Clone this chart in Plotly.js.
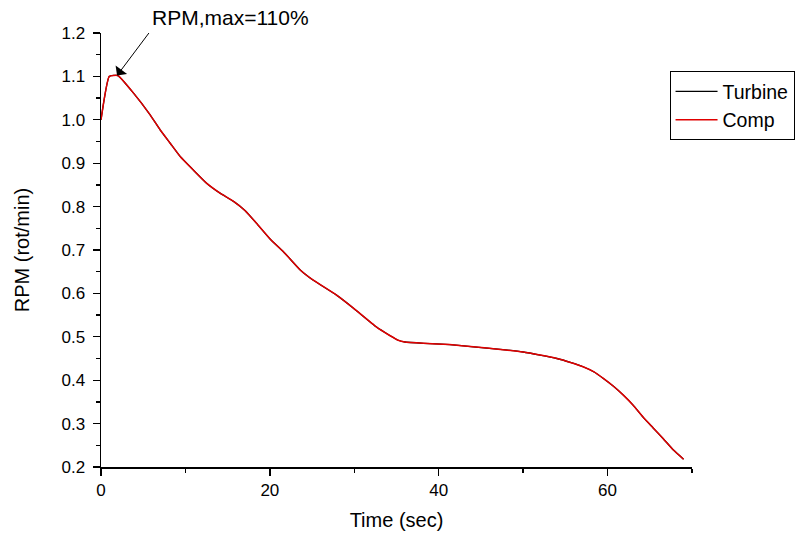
<!DOCTYPE html>
<html>
<head>
<meta charset="utf-8">
<script src="https://cdn.plot.ly/plotly-3.0.1.min.js"></script>
<style>html,body{margin:0;padding:0;background:#fff;}#chart{width:805px;height:540px;}</style>
</head>
<body>
<div id="chart"></div>
<script>
const timeSec = [0, 0.98, 2.0, 3.83, 5.8, 7.0, 8.2, 9.4, 10.9, 12.5, 14.1, 15.7, 17.05, 18.4, 20.0, 21.8, 23.6, 25.1, 27.9, 29.9, 32.6, 34.2, 35.2, 36.0, 38.2, 41.3, 44.1, 47.3, 50.0, 52.0, 54.0, 55.6, 57.1, 58.4, 59.5, 60.7, 61.9, 63.0, 64.2, 65.4, 66.6, 67.8, 69.0];
const turbine = [1.000, 1.100, 1.102, 1.062, 1.012, 0.977, 0.946, 0.915, 0.885, 0.854, 0.831, 0.812, 0.791, 0.762, 0.726, 0.692, 0.654, 0.631, 0.596, 0.566, 0.523, 0.503, 0.492, 0.488, 0.485, 0.482, 0.477, 0.471, 0.465, 0.458, 0.450, 0.441, 0.431, 0.419, 0.404, 0.386, 0.365, 0.343, 0.315, 0.290, 0.265, 0.239, 0.218];
const comp = [1.000, 1.100, 1.102, 1.062, 1.012, 0.977, 0.946, 0.915, 0.885, 0.854, 0.831, 0.812, 0.791, 0.762, 0.726, 0.692, 0.654, 0.631, 0.596, 0.566, 0.523, 0.503, 0.492, 0.488, 0.485, 0.482, 0.477, 0.471, 0.465, 0.458, 0.450, 0.441, 0.431, 0.419, 0.404, 0.386, 0.365, 0.343, 0.315, 0.290, 0.265, 0.239, 0.218];
const seriesNames = ['Turbine', 'Comp'];
const peakTime = 1.9, peakValue = 1.102;

const FONT = 'Liberation Sans, Arial, sans-serif';
const traces = [
  {x: timeSec, y: turbine, name: seriesNames[0], type: 'scatter', mode: 'lines', line: {color: '#000000', width: 1.3, shape: 'spline', smoothing: 0.4}},
  {x: timeSec, y: comp, name: seriesNames[1], type: 'scatter', mode: 'lines', line: {color: '#e00000', width: 1.5, shape: 'spline', smoothing: 0.4}}
];
const axisCommon = {
  showgrid: false, zeroline: false, showline: true, linecolor: '#000', linewidth: 1.5,
  ticks: 'outside', ticklen: 7, tickwidth: 1.3, tickcolor: '#000',
  tickfont: {family: FONT, size: 17, color: '#000'}, mirror: false
};
const layout = {
  width: 805, height: 540,
  margin: {l: 101, r: 113, t: 33, b: 73, pad: 0, autoexpand: false},
  paper_bgcolor: '#fff', plot_bgcolor: '#fff',
  font: {family: FONT, color: '#000'},
  showlegend: true,
  legend: {x: 0.962, y: 0.912, xanchor: 'left', yanchor: 'top', bgcolor: '#fff', bordercolor: '#000', borderwidth: 1,
    font: {family: FONT, size: 19.5, color: '#000'}, tracegroupgap: 0, itemwidth: 42},
  xaxis: Object.assign({}, axisCommon, {
    range: [0, 70], dtick: 20, tick0: 0,
    minor: {dtick: 10, ticks: 'outside', ticklen: 4, tickcolor: '#000', tickwidth: 1.3},
    title: {text: 'Time (sec)', font: {family: FONT, size: 20, color: '#000'}, standoff: 14}
  }),
  yaxis: Object.assign({}, axisCommon, {
    range: [0.2, 1.2], dtick: 0.1, tick0: 0.2, tickformat: '.1f', ticklabelstandoff: 4,
    minor: {dtick: 0.05, ticks: 'outside', ticklen: 4, tickcolor: '#000', tickwidth: 1.3},
    title: {text: 'RPM (rot/min)', font: {family: FONT, size: 20, color: '#000'}, standoff: 26}
  }),
  annotations: [
    {x: peakTime, y: peakValue, xref: 'x', yref: 'y', text: '', showarrow: true, ax: 33, ay: -44,
     arrowhead: 1, arrowsize: 2.4, arrowwidth: 1, arrowcolor: '#000', standoff: 0},
    {x: 0.083, y: 1.035, xref: 'paper', yref: 'paper', xanchor: 'left', yanchor: 'middle',
     text: 'RPM,max=110%', showarrow: false, font: {family: FONT, size: 21, color: '#000'}}
  ]
};
Plotly.newPlot('chart', traces, layout, {displayModeBar: false, staticPlot: true});
</script>
</body>
</html>
